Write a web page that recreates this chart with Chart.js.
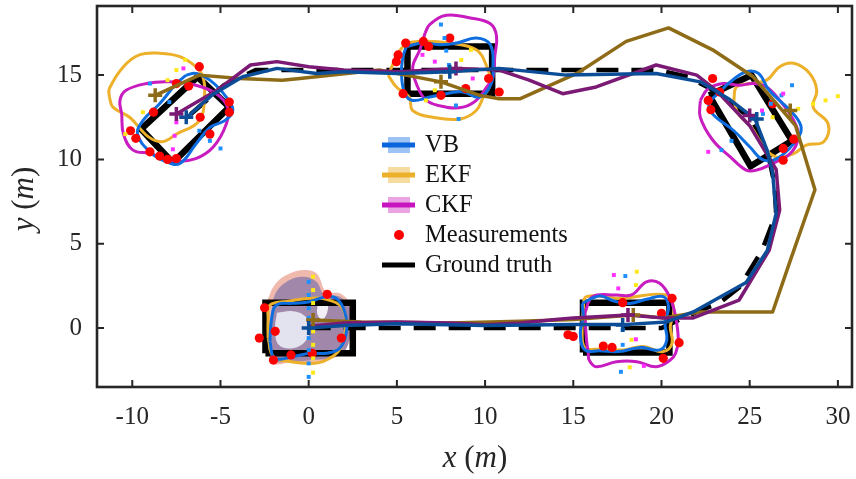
<!DOCTYPE html>
<html>
<head>
<meta charset="utf-8">
<script src="https://cdn.jsdelivr.net/npm/chart.js@4.4.1/dist/chart.umd.min.js"></script>
<style>
html, body { margin: 0; padding: 0; background: #fff; }
</style>
</head>
<body>
<canvas id="myChart" width="856" height="479"></canvas>
<script>
// axis ticks
let xTicks = [-10, -5, 0, 5, 10, 15, 20, 25, 30];
let yTicks = [0, 5, 10, 15];

// ground truth: centre path and the five extents (corners)
let gtPath = [[0,0],[20,0],[22.2,1.05],[23.3,1.5],[24.4,2.4],[25.7,4.6],[26.5,6.8],[26.4,8.6],[26.0,10.5],[25.1,12.4],[23.3,13.9],[21.5,14.9],[19.8,15.3],[8,15.3],[-3,15.3],[-4.8,14.4],[-7,12.4]];
let gtBoxes = [
    [[-2.45,-1.5],[2.5,-1.5],[2.5,1.5],[-2.45,1.5]],
    [[15.55,-1.45],[20.45,-1.45],[20.45,1.5],[15.55,1.5]],
    [[5.6,13.9],[10.4,13.9],[10.4,16.7],[5.6,16.7]],
    [[-7.7,9.8],[-4.5,13.1],[-6.3,14.9],[-9.5,11.8]],
    [[22.7,13.8],[25.1,15.0],[27.4,11.1],[25.05,9.6]]
];

// estimated centre tracks
let vbTrack = [[0,0],[2,0.15],[5,0.25],[10,0.15],[15,0.2],[17.8,0.2],[20.3,0.36],[21.8,0.95],[24.8,2.7],[26.0,4.6],[26.5,6.8],[26.3,9.2],[26.0,10.5],[25.3,12.4],[23.8,13.6],[22.2,14.6],[19.7,15.1],[14.6,15.0],[10.8,15.4],[8.0,15.2],[5,15.1],[2,15.2],[0.45,15.1],[-1.8,15.4],[-3.75,14.9],[-5.5,13.8],[-6.9,12.5]];
let ekfTrack = [[0.25,0.47],[3,0.35],[8,0.3],[12,0.4],[15,0.5],[18.4,0.77],[20.1,0.6],[22.2,0.95],[26.3,0.95],[27.3,4],[28.7,8.2],[27.6,12],[25.2,14.9],[22.9,16.5],[20.4,17.8],[18.0,17.0],[15.2,15.1],[12.0,13.6],[10.8,13.6],[9.7,13.8],[7.5,14.6],[4,15.3],[-0.5,14.8],[-1.5,14.7],[-3.9,14.8],[-6.2,15.0],[-8.7,13.8]];
let ckfTrack = [[0,0.1],[2,0.3],[5,0.35],[8,0.3],[10,0.2],[12,0.3],[14,0.5],[15,0.6],[18.1,0.77],[20,0.6],[21.8,0.6],[24.4,1.66],[26.1,4.6],[26.7,7.0],[26.5,9.4],[25.0,12.0],[23.1,14.1],[22.0,15.0],[19.7,15.6],[16.3,14.3],[14.4,13.9],[12.5,14.7],[10.8,15.3],[8.35,15.4],[5.2,15.2],[2,15.3],[0,15.5],[-1.8,15.8],[-3.3,15.6],[-5.2,14.1],[-7.5,12.7]];

// estimated extents (closed contours)
let vbExtents = [
    [[-2.2,-0.8],[-2.1,0.57],[-1.83,1.36],[-0.9,1.46],[0.06,1.56],[1.0,1.86],[1.57,1.76],[2.04,0.97],[2.14,-0.22],[1.76,-1.2],[1.0,-1.5],[0.06,-1.5],[-0.9,-1.7],[-1.93,-1.8]],
    [[15.5,1.46],[16.5,1.9],[17.3,1.6],[18.2,1.46],[19.15,1.7],[20.1,1.86],[20.4,1.26],[20.2,0.28],[20.3,-0.71],[19.9,-1.3],[18.8,-1.15],[17.6,-1.4],[16.5,-1.35],[15.65,-1.3],[15.4,-0.3],[15.56,0.67]],
    [[5.54,16.7],[6.5,16.9],[7.5,16.8],[8.4,16.9],[9.5,17.2],[10.3,16.8],[10.45,15.5],[10.35,14.5],[9.7,13.7],[8.75,14.0],[7.8,13.9],[6.86,13.7],[5.9,13.5],[5.45,13.9],[5.26,15.1],[5.35,16.1]],
    [[-6.94,15.0],[-6.4,15.1],[-5.6,14.7],[-4.67,13.7],[-4.3,12.9],[-4.76,12.3],[-5.6,11.9],[-6.4,10.9],[-7.3,9.76],[-8.07,9.86],[-9.0,10.45],[-9.7,11.5],[-9.4,12.3],[-8.45,13.3],[-7.5,14.5]],
    [[23.3,14.0],[23.9,14.6],[24.8,15.2],[25.5,15.1],[26.1,14.1],[27.3,12.9],[27.9,12.0],[27.75,11.3],[26.7,10.15],[25.8,9.96],[25.0,10.75],[24.1,11.7],[22.9,12.7],[22.7,13.3]]
];
let ekfExtents = [
    [[-2.3,-0.6],[-2.3,0.5],[-2.2,1.36],[-1.08,1.6],[0.06,1.76],[1.0,1.7],[1.9,1.2],[2.1,0.2],[1.8,-1.2],[1.0,-1.9],[0.2,-2.1],[-1.0,-2.0],[-2.0,-1.7]],
    [[15.56,1.07],[15.75,1.86],[17.6,1.76],[20.3,1.96],[20.7,1.07],[20.5,0.08],[20.6,-0.9],[20.1,-1.4],[18.96,-1.1],[17.8,-1.3],[16.5,-1.26],[15.65,-1.15],[15.5,-0.1]],
    [[4.5,15.0],[5.35,16.7],[6.3,17.0],[8.0,16.9],[9.5,16.5],[10.1,15.5],[10.3,14.5],[9.9,13.7],[9.5,12.9],[8.6,12.4],[7.05,12.5],[5.9,12.9],[5.7,13.7],[4.97,14.3]],
    [[-11.3,13.7],[-11.3,14.2],[-10.5,15.5],[-9.6,16.2],[-8.45,16.3],[-7.3,16.1],[-6.4,15.5],[-6.0,14.9],[-5.9,13.9],[-6.2,12.3],[-7.5,11.5],[-8.3,11.05],[-9.1,11.35],[-10.15,12.5],[-11.1,13.1]],
    [[24.1,13.5],[24.25,14.3],[25.0,14.5],[25.96,14.7],[26.7,15.5],[27.5,15.7],[28.4,15.1],[28.8,14.1],[28.6,13.1],[29.45,12.1],[29.2,11.05],[28.2,10.85],[27.5,10.35],[26.5,10.15],[25.8,10.75],[25.1,11.9],[24.35,12.7]]
];
let ckfExtents = [
    [[15.65,0.87],[16.1,1.86],[17.45,1.96],[18.3,1.96],[19.15,2.74],[19.9,2.65],[20.5,1.76],[20.8,0.67],[20.95,-0.7],[20.8,-1.5],[20.5,-1.9],[19.7,-2.3],[18.6,-2.0],[17.45,-2.0],[16.3,-2.3],[15.9,-1.9],[15.85,-1.5],[15.75,-0.7]],
    [[6.6,17.5],[6.86,18.0],[7.8,18.55],[9.1,18.4],[10.3,18.05],[10.65,17.3],[10.55,16.1],[10.45,14.9],[10.1,14.3],[9.5,13.5],[8.75,13.1],[7.8,13.1],[6.67,13.5],[6.1,14.5],[5.9,15.5],[6.3,16.5]],
    [[-10.6,12.7],[-10.7,13.5],[-10.35,14.1],[-9.2,14.5],[-7.9,14.6],[-6.4,14.4],[-5.24,13.9],[-4.6,13.1],[-4.67,12.1],[-5.4,10.75],[-6.4,10.05],[-7.7,9.9],[-9.0,10.35],[-9.96,10.55],[-10.5,11.5]],
    [[22.2,13.5],[22.65,14.2],[23.5,14.5],[24.4,14.4],[25.2,14.5],[25.96,14.3],[26.7,13.5],[27.5,12.3],[27.75,11.3],[27.3,10.35],[26.3,9.76],[25.4,9.37],[24.8,9.37],[23.9,10.15],[22.9,11.15],[22.2,12.5]]
];

// shaded initial extents at the start
let initOuter = [[-2.3,1.76],[-1.93,2.55],[-1.26,3.14],[-0.3,3.44],[0.44,3.24],[1.0,2.15],[1.76,2.06],[2.4,1.36],[2.5,0.37],[2.23,-1.0],[1.76,-1.6],[0.44,-2.0],[-0.9,-2.0],[-2.0,-2.1],[-2.3,-1.0],[-2.4,0.57]];
let initInner = [[-2.1,1.17],[-1.83,2.15],[-1.08,2.85],[-0.23,3.04],[0.44,2.74],[0.9,1.96],[1.76,1.86],[2.33,1.17],[2.33,-0.22],[2.14,-1.2],[1.57,-1.7],[0.25,-1.9],[-1.08,-2.0],[-2.0,-1.9],[-2.2,-0.6]];
let initHole = [[-1.8,0.9],[-0.9,1.0],[-0.2,0.7],[0.1,0],[-0.2,-0.8],[-0.9,-1.2],[-1.7,-1.0],[-1.9,0]];
let initOval = [[0.5,1.4],[0.9,1.75],[1.1,1.2],[0.8,0.5],[0.5,0.8]];

// measurements
let measurements = [
    [-2.5,1.2],[-2.8,-0.6],[-1.9,-0.2],[-2.0,-1.9],[-1.0,-1.6],[0.2,-1.5],[1.85,-0.6],[1.05,2.0],
    [14.7,-0.4],[15.0,-0.5],[16.7,-1.07],[17.2,-1.15],[17.8,1.5],[20.0,0.87],[20.6,1.76],[21.0,-0.87],[20.1,-1.8],
    [5.5,16.9],[5.07,16.2],[4.97,15.8],[6.5,17.0],[6.8,16.7],[8.0,17.2],[10.2,14.8],[10.8,14.0],[5.35,13.9],[8.9,14.2],[7.5,13.8],
    [-6.2,15.5],[-6.8,14.35],[-7.5,14.5],[-8.8,12.8],[-10.1,11.7],[-9.8,11.25],[-9.0,10.45],[-8.45,10.2],[-8.0,10.0],[-7.5,10.05],[-5.6,11.5],[-6.15,12.5],[-4.5,12.8],[-4.5,13.4],
    [22.9,14.8],[23.3,14.0],[22.65,13.5],[22.8,12.95],[26.3,13.3],[27.5,11.2],[26.9,10.65],[26.9,9.95]
];

// small sample points of each filter
let vbSamples = [[0,2.74],[0,1.96],[0,1.17],[0,0.6],[0,-0.6],[0,-1.3],[0,-2.1],[0,-2.9],[17.95,3.08],[17.8,-0.12],[17.8,-1.0],[17.7,-2.6],[7.5,18.0],[7.7,17.2],[7.8,16.45],[7.95,15.6],[8.35,13.2],[8.5,12.4],[-9.0,14.5],[-7.9,13.4],[-6.2,11.7],[-5.6,11.1],[-5.0,10.65],[27.4,14.4],[26.8,13.8],[25.75,12.7],[26.2,13.3],[23.97,11.1],[23.4,10.55]];
let ekfSamples = [[0.25,3.04],[0.25,2.25],[0.25,1.48],[0.25,-0.2],[0.25,-1.0],[0.25,-1.8],[0.25,-2.65],[18.6,3.34],[18.55,2.55],[18.3,-0.7],[18.2,-2.33],[8.65,15.9],[9.2,16.5],[7.15,14.1],[6.65,13.5],[-7.0,15.9],[-7.5,15.3],[-8.0,14.7],[-9.4,12.8],[-10.4,11.5],[26.3,12.5],[27.75,13.0],[28.6,13.3],[29.3,13.5],[30.0,13.75]];
let ckfSamples = [[17.3,3.14],[17.55,2.35],[18.55,-0.67],[19.0,-2.25],[6.45,16.2],[7.15,15.8],[9.3,14.8],[-7.1,15.4],[-7.5,12.2],[-7.6,11.4],[-7.7,10.6],[26.9,13.9],[25.7,12.9],[22.65,10.45]];

// estimated centres
let vbCenters = [[0,0],[17.8,0.18],[8.0,15.2],[-6.94,12.5],[25.4,12.4]];
let ekfCenters = [[0.25,0.47],[18.4,0.77],[7.5,14.6],[-8.7,13.8],[27.3,12.9]];
let ckfCenters = [[18.1,0.77],[8.35,15.4],[-7.5,12.7],[25.0,12.6]];

let legendItems = [
    {label: 'VB', line: '#0a64dc', box: '#9cc3f3'},
    {label: 'EKF', line: '#ecb02a', box: '#f7dca2'},
    {label: 'CKF', line: '#c814c0', box: '#eba4e3'},
    {label: 'Measurements', dot: '#ff0000'},
    {label: 'Ground truth', line: '#000000'}
];

function pts(a) {
    return a.map(function (p) { return {x: p[0], y: p[1]}; });
}
function closed(a) {
    return pts(a.concat([a[0]]));
}

let datasets = [];

function addShape(a, color, order) {
    datasets.push({data: closed(a), showLine: true, fill: 'shape', backgroundColor: color,
        borderWidth: 0, borderColor: 'rgba(0,0,0,0)', tension: 0.4, pointRadius: 0, order: order});
}
function addContour(a, color, order) {
    datasets.push({data: closed(a), showLine: true, borderColor: color, borderWidth: 3,
        tension: 0.4, pointRadius: 0, order: order});
}
function addTrack(a, color, order) {
    datasets.push({data: pts(a), showLine: true, borderColor: color, borderWidth: 3.5,
        borderJoinStyle: 'round', tension: 0, pointRadius: 0, order: order});
}
function addPoints(a, color, style, radius, bw, order) {
    datasets.push({data: pts(a), showLine: false, pointStyle: style, pointRadius: radius,
        backgroundColor: color, borderColor: color, pointBorderWidth: bw, order: order});
}

addShape(initOuter, 'rgba(226,128,108,0.55)', 30);
addShape(initInner, 'rgba(96,96,168,0.55)', 29);
addShape(initHole, 'rgba(238,242,252,0.85)', 28);
addShape(initOval, 'rgba(250,250,255,0.9)', 27);

gtBoxes.forEach(function (b) {
    datasets.push({data: closed(b), showLine: true, borderColor: '#000', borderWidth: 6.5,
        borderJoinStyle: 'miter', tension: 0, pointRadius: 0, order: 25});
});
datasets.push({data: pts(gtPath), showLine: true, borderColor: '#000', borderWidth: 4.5,
    borderDash: [22, 13], tension: 0, pointRadius: 0, order: 24});

ekfExtents.forEach(function (a) { addContour(a, '#ecb02a', 20); });
ckfExtents.forEach(function (a) { addContour(a, '#c81cc0', 19); });
vbExtents.forEach(function (a) { addContour(a, '#0e6ee0', 18); });

addPoints(measurements, '#ff0000', 'circle', 4.6, 0, 15);
addPoints(ckfSamples, '#ff30ff', 'rect', 2.8, 0, 14);
addPoints(ekfSamples, '#ffe81a', 'rect', 2.8, 0, 14);
addPoints(vbSamples, '#1e8fff', 'rect', 2.8, 0, 14);

addTrack(ekfTrack, '#8e6b17', 12);
addTrack(ckfTrack, '#7a1a74', 11);
addTrack(vbTrack, '#0c4d98', 10);

addPoints(ekfCenters, '#8e6b17', 'cross', 7, 3.5, 5);
addPoints(ckfCenters, '#7a1a74', 'cross', 7, 3.5, 4);
addPoints(vbCenters, '#0c4d98', 'cross', 7, 3.5, 3);

function drawMath(ctx, parts, size) {
    let w = 0;
    parts.forEach(function (p) {
        ctx.font = p[1] + ' ' + size + 'px "Liberation Serif"';
        w += ctx.measureText(p[0]).width;
    });
    let x = -w / 2;
    parts.forEach(function (p) {
        ctx.font = p[1] + ' ' + size + 'px "Liberation Serif"';
        ctx.fillText(p[0], x, 0);
        x += ctx.measureText(p[0]).width;
    });
}

// box, inward ticks, legend and axis titles
let decorations = {
    id: 'decorations',
    afterDraw: function (chart) {
        let ctx = chart.ctx;
        let a = chart.chartArea;
        let sx = chart.scales.x;
        let sy = chart.scales.y;
        ctx.save();
        ctx.strokeStyle = '#262626';
        ctx.lineWidth = 2;
        ctx.beginPath();
        xTicks.forEach(function (v) {
            let px = sx.getPixelForValue(v);
            ctx.moveTo(px, a.bottom); ctx.lineTo(px, a.bottom - 7);
            ctx.moveTo(px, a.top); ctx.lineTo(px, a.top + 7);
        });
        yTicks.forEach(function (v) {
            let py = sy.getPixelForValue(v);
            ctx.moveTo(a.left, py); ctx.lineTo(a.left + 7, py);
            ctx.moveTo(a.right, py); ctx.lineTo(a.right - 7, py);
        });
        ctx.stroke();
        ctx.lineWidth = 2.6;
        ctx.strokeRect(a.left, a.top, a.right - a.left, a.bottom - a.top);

        // legend
        let lx = 382, ly = 145;
        ctx.textBaseline = 'middle';
        ctx.textAlign = 'left';
        legendItems.forEach(function (it, i) {
            let y = ly + i * 30;
            if (it.box) {
                ctx.fillStyle = it.box;
                ctx.fillRect(lx + 6, y - 8, 22, 16);
            }
            if (it.line) {
                ctx.strokeStyle = it.line;
                ctx.lineWidth = 5;
                ctx.beginPath();
                ctx.moveTo(lx, y); ctx.lineTo(lx + 33, y);
                ctx.stroke();
            }
            if (it.dot) {
                ctx.fillStyle = it.dot;
                ctx.beginPath();
                ctx.arc(lx + 17, y, 5, 0, Math.PI * 2);
                ctx.fill();
            }
            ctx.fillStyle = '#111';
            ctx.font = '24.5px "Liberation Serif"';
            ctx.fillText(it.label, lx + 43, y + 1);
        });

        // axis titles
        ctx.fillStyle = '#262626';
        ctx.textBaseline = 'middle';
        ctx.save();
        ctx.translate(475, 459);
        drawMath(ctx, [['x', 'italic'], [' (', 'normal'], ['m', 'italic'], [')', 'normal']], 31);
        ctx.restore();
        ctx.save();
        ctx.translate(25, 199);
        ctx.rotate(-Math.PI / 2);
        drawMath(ctx, [['y', 'italic'], [' (', 'normal'], ['m', 'italic'], [')', 'normal']], 31);
        ctx.restore();
        ctx.restore();
    }
};

let tickFont = {family: 'Liberation Serif', size: 25};

let ctx = document.getElementById('myChart').getContext('2d');
let myChart = new Chart(ctx, {
    type: 'scatter',
    data: {datasets: datasets},
    options: {
        responsive: false,
        animation: false,
        devicePixelRatio: 1,
        layout: {autoPadding: false, padding: {top: 6, right: 4, left: 0, bottom: 0}},
        plugins: {legend: {display: false}, tooltip: {enabled: false}},
        scales: {
            x: {
                type: 'linear', min: -12, max: 30.8,
                afterFit: function (s) { s.height = 92; s.paddingLeft = 0; s.paddingRight = 0; },
                afterBuildTicks: function (s) { s.ticks = xTicks.map(function (v) { return {value: v}; }); },
                grid: {display: false, drawTicks: false},
                border: {display: false},
                ticks: {font: tickFont, color: '#262626', padding: 15, maxRotation: 0, autoSkip: false}
            },
            y: {
                type: 'linear', min: -3.5, max: 19.1,
                afterFit: function (s) { s.width = 97; s.paddingTop = 0; s.paddingBottom = 0; },
                afterBuildTicks: function (s) { s.ticks = yTicks.map(function (v) { return {value: v}; }); },
                grid: {display: false, drawTicks: false},
                border: {display: false},
                ticks: {font: tickFont, color: '#262626', padding: 15, autoSkip: false}
            }
        }
    },
    plugins: [decorations]
});
</script>
</body>
</html>
